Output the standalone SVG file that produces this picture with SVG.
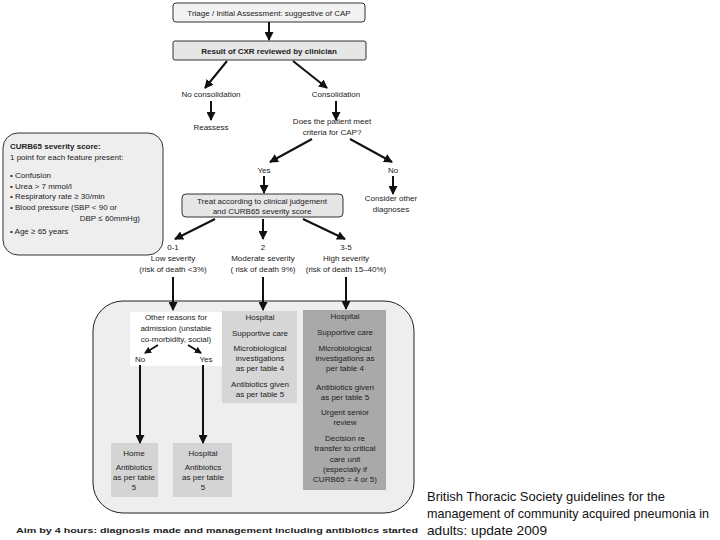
<svg xmlns="http://www.w3.org/2000/svg" width="720" height="540" viewBox="0 0 720 540">
<defs>
<marker id="ah" markerUnits="userSpaceOnUse" markerWidth="9" markerHeight="9" refX="8" refY="4.5" orient="auto">
<path d="M0,0 L9,4.5 L0,9 Z" fill="#111"/>
</marker>
<marker id="ahs" markerUnits="userSpaceOnUse" markerWidth="7" markerHeight="7" refX="6" refY="3.5" orient="auto">
<path d="M0,0 L7,3.5 L0,7 Z" fill="#111"/>
</marker>
</defs>
<style>
text{font-family:"Liberation Sans",Arial,sans-serif;font-size:8px;fill:#222;text-anchor:middle}
.b{font-weight:bold}
.l{text-anchor:start}
.r{text-anchor:end}
.c{stroke:#111;stroke-width:2;fill:none;marker-end:url(#ah)}
.cs{stroke:#111;stroke-width:1.8;fill:none;marker-end:url(#ahs)}
.box{stroke:#333;stroke-width:1}
.cite{font-family:"Liberation Sans",Arial,sans-serif;font-size:12.4px;text-anchor:start;fill:#111}
</style>
<rect width="720" height="540" fill="#fff"/>

<g id="triage">
<rect class="box" x="173" y="3" width="192" height="19" rx="3" fill="#f2f2f2"/>
<text x="269" y="16">Triage / Initial Assessment: suggestive of CAP</text>
</g>
<g id="cxr">
<rect class="box" x="173" y="41" width="193" height="19" rx="2" fill="#e6e6e6"/>
<text class="b" x="269" y="54">Result of CXR reviewed by clinician</text>
</g>
<g id="noconsol"><text x="211" y="97">No consolidation</text></g>
<g id="reassess"><text x="211" y="130">Reassess</text></g>
<g id="consol"><text x="336" y="97">Consolidation</text></g>
<g id="criteria">
<text x="332" y="124">Does the patient meet</text>
<text x="332" y="135">criteria for CAP?</text>
</g>
<g id="yes"><text x="264" y="173">Yes</text></g>
<g id="no"><text x="393" y="173">No</text></g>
<g id="consider">
<text x="391" y="201">Consider other</text>
<text x="391" y="212">diagnoses</text>
</g>
<g id="curb65">
<rect class="box" x="3" y="133" width="160" height="122" rx="15" fill="#eeeeee"/>
<text class="l b" x="10" y="149">CURB65 severity score:</text>
<text class="l" x="10" y="160">1 point for each feature present:</text>
<text class="l" x="10" y="178">• Confusion</text>
<text class="l" x="10" y="189">• Urea &gt; 7 mmol/l</text>
<text class="l" x="10" y="199">• Respiratory rate ≥ 30/min</text>
<text class="l" x="10" y="210">• Blood pressure (SBP &lt; 90 or</text>
<text class="r" x="140" y="221">DBP ≤ 60mmHg)</text>
<text class="l" x="10" y="234">• Age ≥ 65 years</text>
</g>
<g id="treat">
<rect class="box" x="182" y="194" width="161" height="23" rx="4" fill="#e6e6e6"/>
<text x="262" y="204">Treat according to clinical judgement</text>
<text x="262" y="214">and CURB65 severity score</text>
</g>
<g id="low">
<text x="173" y="250">0-1</text>
<text x="173" y="261">Low severity</text>
<text x="173" y="272">(risk of death &lt;3%)</text>
</g>
<g id="moderate">
<text x="263" y="250">2</text>
<text x="263" y="261">Moderate severity</text>
<text x="263" y="272">( risk of death 9%)</text>
</g>
<g id="high">
<text x="346" y="250">3-5</text>
<text x="346" y="261">High severity</text>
<text x="346" y="272">(risk of death 15–40%)</text>
</g>
<g id="container">
<rect x="93" y="301" width="321" height="212" rx="30" fill="#eeeeee" stroke="#222" stroke-width="1"/>
</g>
<g id="other">
<rect x="130" y="312" width="92" height="54" fill="#ffffff"/>
<text x="176" y="320">Other reasons for</text>
<text x="176" y="331">admission (unstable</text>
<text x="176" y="342">co-morbidity, social)</text>
<text x="140" y="362">No</text>
<text x="206" y="362">Yes</text>
</g>
<g id="hosp-mod">
<rect x="222" y="311" width="75" height="92" fill="#d6d6d6"/>
<text x="260" y="320">Hospital</text>
<text x="260" y="336">Supportive care</text>
<text x="260" y="351">Microbiological</text>
<text x="260" y="361">investigations</text>
<text x="260" y="371">as per table 4</text>
<text x="260" y="387">Antibiotics given</text>
<text x="260" y="397">as per table 5</text>
</g>
<g id="hosp-high">
<rect x="303" y="310" width="83" height="180" fill="#a9a9a9"/>
<text x="345" y="319">Hospital</text>
<text x="345" y="335">Supportive care</text>
<text x="345" y="351">Microbiological</text>
<text x="345" y="361">investigations as</text>
<text x="345" y="371">per table 4</text>
<text x="345" y="390">Antibiotics given</text>
<text x="345" y="400">as per table 5</text>
<text x="345" y="415">Urgent senior</text>
<text x="345" y="425">review</text>
<text x="345" y="441">Decision re</text>
<text x="345" y="451">transfer to critical</text>
<text x="345" y="462">care unit</text>
<text x="345" y="472">(especially if</text>
<text x="345" y="482">CURB65 = 4 or 5)</text>
</g>
<g id="home">
<rect x="111" y="443" width="47" height="54" fill="#d4d4d4"/>
<text x="134" y="456">Home</text>
<text x="134" y="470">Antibiotics</text>
<text x="134" y="480">as per table</text>
<text x="134" y="490">5</text>
</g>
<g id="hosp-low">
<rect x="173" y="443" width="59" height="54" fill="#d4d4d4"/>
<text x="203" y="456">Hospital</text>
<text x="203" y="470">Antibiotics</text>
<text x="203" y="480">as per table</text>
<text x="203" y="490">5</text>
</g>
<g id="aim">
<text class="b" x="217" y="533" textLength="402" lengthAdjust="spacingAndGlyphs">Aim by 4 hours: diagnosis made and management including antibiotics started</text>
</g>
<g id="citation">
<text class="cite" x="427" y="501" textLength="238" lengthAdjust="spacingAndGlyphs">British Thoracic Society guidelines for the</text>
<text class="cite" x="427" y="518" textLength="282" lengthAdjust="spacingAndGlyphs">management of community acquired pneumonia in</text>
<text class="cite" x="427" y="535" textLength="120" lengthAdjust="spacingAndGlyphs">adults: update 2009</text>
</g>
<g id="connectors">
<line class="c" x1="269" y1="22" x2="269" y2="40"/>
<line class="c" x1="227" y1="61" x2="205" y2="88"/>
<line class="c" x1="293" y1="61" x2="327" y2="88"/>
<line class="c" x1="211" y1="101" x2="211" y2="120"/>
<line class="c" x1="336" y1="101" x2="336" y2="120"/>
<line class="c" x1="312" y1="139" x2="270" y2="162"/>
<line class="c" x1="350" y1="139" x2="392" y2="162"/>
<line class="c" x1="264" y1="176" x2="264" y2="193"/>
<line class="c" x1="393" y1="176" x2="393" y2="194"/>
<line class="c" x1="215" y1="219" x2="175" y2="239"/>
<line class="c" x1="263" y1="219" x2="263" y2="239"/>
<line class="c" x1="303" y1="219" x2="345" y2="239"/>
<line class="c" x1="173" y1="277" x2="173" y2="310"/>
<line class="c" x1="263" y1="277" x2="263" y2="310"/>
<line class="c" x1="346" y1="277" x2="346" y2="309"/>
<line class="cs" x1="158" y1="345" x2="145" y2="353"/>
<line class="cs" x1="188" y1="345" x2="201" y2="353"/>
<line class="c" x1="140" y1="365" x2="140" y2="443"/>
<line class="c" x1="203" y1="365" x2="203" y2="443"/>
</g>
</svg>
